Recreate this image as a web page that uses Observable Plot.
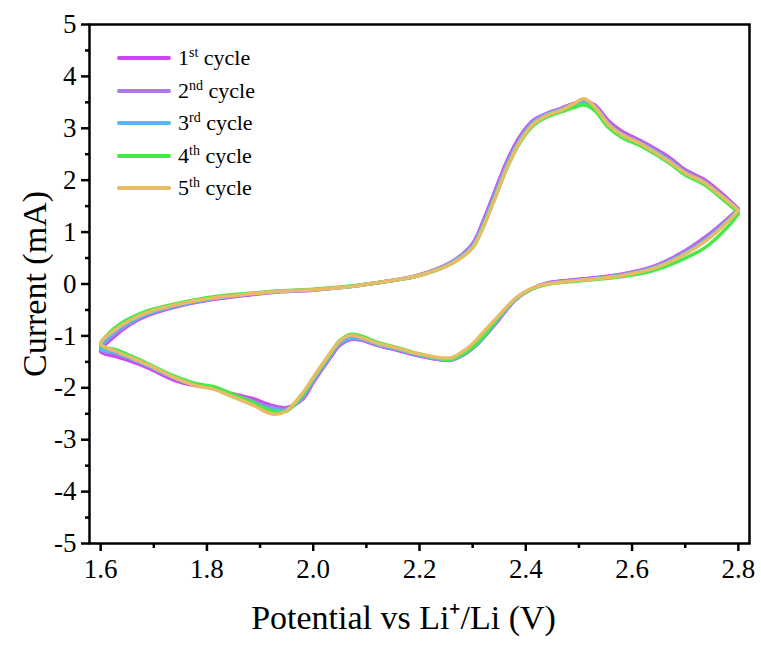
<!DOCTYPE html>
<html><head><meta charset="utf-8">
<script src="https://cdn.jsdelivr.net/npm/d3@7"></script>
<script src="https://cdn.jsdelivr.net/npm/@observablehq/plot@0.6"></script>
<style>
body{margin:0;background:#fff;}
#wrap{position:relative;width:761px;height:648px;}
#legend{position:absolute;left:0;top:0;}
.item{position:absolute;display:flex;align-items:center;font-family:"Liberation Serif",serif;font-size:22px;line-height:1;white-space:nowrap;color:#000;}
.sw{width:54px;height:0;border-top:4px solid;margin-right:7px;border-radius:2px;}
.item sup{font-size:14px;vertical-align:0;position:relative;top:-8px;}
svg text{font-family:"Liberation Serif",serif;}
</style></head><body><div id="wrap"><div id="chart"></div><div id="legend"></div></div>
<script>
// Potential (V) along the scan path: cathodic branch 2.8 -> 1.6, then anodic branch 1.6 -> 2.8
const potential = [2.80,2.78,2.74,2.69,2.64,2.58,2.50,2.44,2.41,2.38,2.35,2.32,2.30,2.28,2.26,2.24,2.20,2.16,2.12,2.09,2.07,2.05,2.03,2.00,1.98,1.95,1.93,1.91,1.89,1.85,1.81,1.78,1.74,1.69,1.66,1.63,1.60,
  1.625,1.655,1.69,1.75,1.81,1.88,1.94,2.00,2.06,2.13,2.19,2.23,2.27,2.30,2.32,2.34,2.365,2.39,2.415,2.44,2.465,2.49,2.51,2.53,2.555,2.58,2.62,2.67,2.70,2.735,2.765,2.80];

// Current (mA) per cycle
const cycle1 = [1.45,1.26,0.92,0.58,0.34,0.19,0.09,0.02,-0.10,-0.31,-0.68,-1.04,-1.24,-1.38,-1.46,-1.46,-1.39,-1.28,-1.18,-1.08,-1.07,-1.18,-1.45,-1.90,-2.22,-2.38,-2.36,-2.30,-2.22,-2.12,-2.00,-1.96,-1.86,-1.62,-1.50,-1.40,-1.30,
  -1.02,-0.78,-0.60,-0.42,-0.30,-0.21,-0.15,-0.12,-0.06,0.04,0.15,0.28,0.49,0.78,1.22,1.74,2.38,2.86,3.16,3.29,3.38,3.48,3.52,3.45,3.15,2.95,2.74,2.44,2.20,2.02,1.78,1.45];
const cycle2 = [1.44,1.24,0.90,0.57,0.33,0.18,0.08,0.01,-0.10,-0.30,-0.66,-1.04,-1.24,-1.38,-1.47,-1.46,-1.38,-1.27,-1.17,-1.07,-1.06,-1.16,-1.43,-1.88,-2.20,-2.40,-2.39,-2.34,-2.26,-2.14,-1.99,-1.95,-1.83,-1.59,-1.46,-1.35,-1.27,
  -0.98,-0.76,-0.58,-0.41,-0.29,-0.20,-0.14,-0.11,-0.06,0.04,0.14,0.27,0.48,0.76,1.18,1.70,2.34,2.83,3.14,3.28,3.37,3.47,3.51,3.43,3.12,2.92,2.72,2.41,2.18,1.99,1.75,1.44];
const cycle3 = [1.43,1.22,0.86,0.54,0.31,0.17,0.07,0.00,-0.10,-0.30,-0.65,-1.03,-1.23,-1.37,-1.46,-1.45,-1.37,-1.26,-1.16,-1.05,-1.04,-1.14,-1.41,-1.85,-2.17,-2.43,-2.42,-2.38,-2.29,-2.14,-1.99,-1.94,-1.81,-1.58,-1.45,-1.32,-1.24,
  -0.94,-0.74,-0.57,-0.40,-0.28,-0.19,-0.14,-0.11,-0.06,0.04,0.14,0.27,0.47,0.74,1.15,1.66,2.30,2.80,3.12,3.27,3.36,3.46,3.49,3.40,3.08,2.88,2.69,2.38,2.15,1.96,1.72,1.43];
const cycle4 = [1.35,1.10,0.72,0.45,0.26,0.14,0.06,-0.01,-0.10,-0.29,-0.63,-1.02,-1.22,-1.36,-1.45,-1.44,-1.35,-1.23,-1.12,-1.00,-0.97,-1.09,-1.38,-1.82,-2.14,-2.45,-2.46,-2.40,-2.30,-2.13,-1.97,-1.92,-1.78,-1.54,-1.40,-1.27,-1.18,
  -0.86,-0.66,-0.51,-0.36,-0.25,-0.18,-0.13,-0.10,-0.05,0.04,0.14,0.26,0.45,0.70,1.10,1.60,2.24,2.74,3.06,3.22,3.31,3.40,3.45,3.34,3.02,2.83,2.64,2.33,2.10,1.92,1.68,1.38];
const cycle5 = [1.42,1.20,0.84,0.52,0.30,0.16,0.07,0.00,-0.09,-0.28,-0.60,-0.93,-1.15,-1.31,-1.42,-1.42,-1.35,-1.24,-1.14,-1.03,-0.99,-1.10,-1.36,-1.80,-2.10,-2.44,-2.51,-2.46,-2.35,-2.18,-2.02,-1.96,-1.81,-1.56,-1.43,-1.30,-1.15,
  -0.90,-0.70,-0.54,-0.38,-0.27,-0.19,-0.14,-0.11,-0.06,0.04,0.14,0.26,0.45,0.70,1.10,1.60,2.25,2.76,3.09,3.25,3.34,3.47,3.57,3.41,3.08,2.88,2.68,2.36,2.14,1.96,1.72,1.42];

const cycleNums = ["1","2","3","4","5"];
const cycleSups = ["st","nd","rd","th","th"];
const colors = ["#cf45ef","#ab78ec","#58b6f0","#45eb45","#e8bb66"];
const xTicks = [1.6,1.8,2.0,2.2,2.4,2.6,2.8];
const xMinor = [1.7,1.9,2.1,2.3,2.5,2.7];
const yTicks = [-5,-4,-3,-2,-1,0,1,2,3,4,5];
const yMinor = [-4.5,-3.5,-2.5,-1.5,-0.5,0.5,1.5,2.5,3.5,4.5];
const xTitle = "Potential vs Li\u207A/Li (V)";
const yTitle = "Current (mA)";

const series = [cycle1, cycle2, cycle3, cycle4, cycle5];
const labels = cycleNums.map((n, i) => n + cycleSups[i] + " cycle");
const rows = [];
series.forEach((s, k) => s.forEach((v, i) => rows.push({V: potential[i], I: v, cycle: labels[k]})));

const font = "Liberation Serif";
const chart = Plot.plot({
  width: 761, height: 648,
  marginLeft: 89, marginRight: 12, marginTop: 24, marginBottom: 105,
  x: {domain: [1.579, 2.821]},
  y: {domain: [-5, 5]},
  color: {domain: labels, range: colors},
  style: {fontFamily: font, background: "white", color: "black"},
  marks: [
    Plot.line(rows, {x: "V", y: "I", z: "cycle", stroke: "cycle", strokeWidth: 3.5, curve: "catmull-rom", strokeLinejoin: "round"}),
    Plot.frame({stroke: "black", strokeWidth: 2.5}),
    Plot.axisX(xTicks, {tickSize: 8, tickPadding: 7, fontSize: 27, fontFamily: font, strokeWidth: 2.5, label: null, tickFormat: d => d.toFixed(1)}),
    Plot.axisX(xMinor, {tickSize: 5, strokeWidth: 2.5, label: null, tickFormat: () => ""}),
    Plot.axisY(yTicks, {tickSize: 8, tickPadding: 5, fontSize: 27, fontFamily: font, strokeWidth: 2.5, label: null, tickFormat: d => String(d)}),
    Plot.axisY(yMinor, {tickSize: 4, strokeWidth: 2.5, label: null, tickFormat: () => ""}),
    Plot.text([yTitle], {frameAnchor: "left", textAnchor: "middle", rotate: -90, dx: -54, fontSize: 34, fontFamily: font, text: d => d}),
    Plot.text([xTitle], {frameAnchor: "bottom", textAnchor: "middle", dy: 85, dx: -16, fontSize: 34, fontFamily: font, text: d => d})
  ]
});
document.getElementById("chart").appendChild(chart);

const legend = document.getElementById("legend");
labels.forEach((l, i) => {
  const div = document.createElement("div");
  div.className = "item";
  div.style.left = "117px";
  div.style.top = (47 + i * 32.5) + "px";
  div.innerHTML = `<span class="sw" style="border-color:${colors[i]}"></span><span>${cycleNums[i]}<sup>${cycleSups[i]}</sup> cycle</span>`;
  legend.appendChild(div);
});
</script></body></html>
